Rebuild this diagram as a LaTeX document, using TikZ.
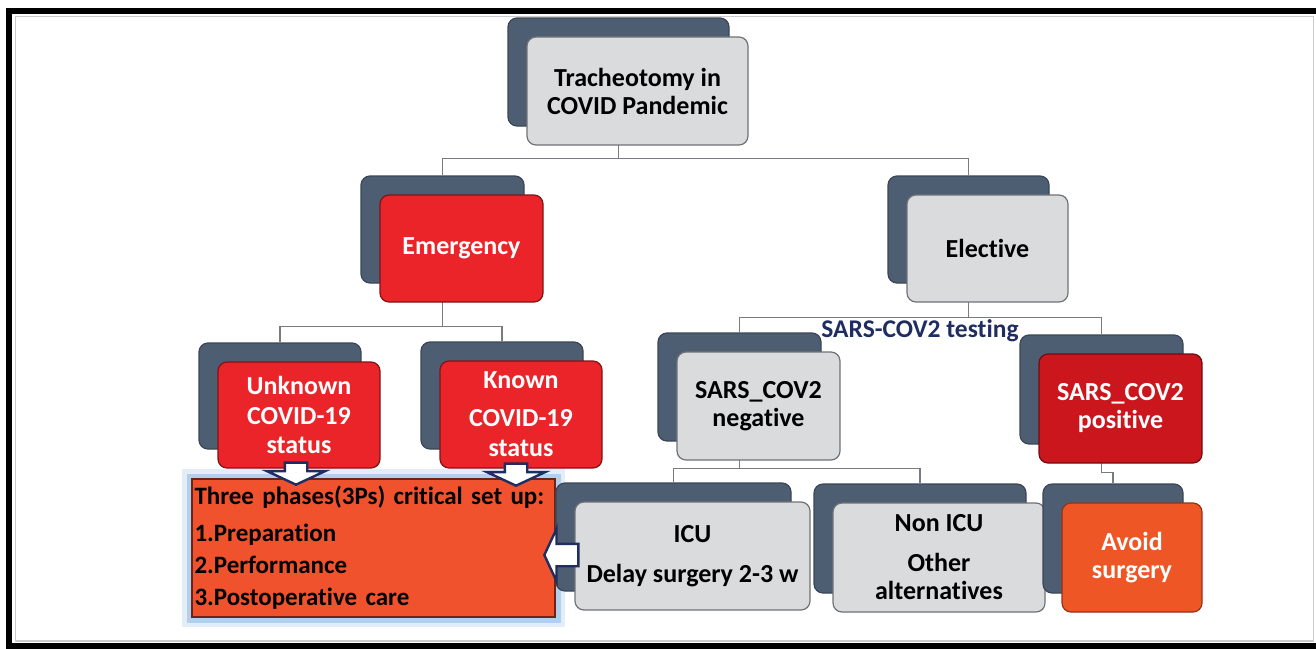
\documentclass[tikz,border=0pt]{standalone}
\usepackage{fontspec}
\setmainfont{Carlito}[Ligatures=NoCommon]
\usetikzlibrary{positioning, shapes.arrows, shadows, backgrounds}

\definecolor{slate}{RGB}{78,94,114}
\definecolor{cardgray}{RGB}{218,219,221}
\definecolor{cardline}{RGB}{112,114,118}
\definecolor{alarmred}{RGB}{234,36,40}
\definecolor{deepred}{RGB}{204,22,30}
\definecolor{avoidorange}{RGB}{238,86,38}
\definecolor{phaseorange}{RGB}{240,82,46}
\definecolor{navy}{RGB}{31,45,96}
\definecolor{glowblue}{RGB}{140,184,226}
\definecolor{linkgray}{RGB}{120,124,130}

\begin{document}
\begin{tikzpicture}[
  x=1pt, y=-1pt,
  card/.style={rectangle, rounded corners=9pt,
               minimum width=163pt, minimum height=107pt,
               font=\fontsize{26}{28}\selectfont\bfseries, align=center,
               inner sep=2pt, line width=1.2pt,
               copy shadow={shadow xshift=-19pt, shadow yshift=19pt,
                            fill=slate, draw=slate!75!black}},
  graycard/.style={card, fill=cardgray, draw=cardline, text=black},
  redcard/.style={card, fill=alarmred, draw=alarmred!55!black, text=white},
  deepcard/.style={card, fill=deepred, draw=deepred!55!black, text=white},
  orangecard/.style={card, fill=avoidorange, draw=avoidorange!60!black, text=white},
  phasebox/.style={rectangle, fill=phaseorange, draw=phaseorange!45!black,
                   line width=1.2pt, minimum width=363pt, minimum height=138pt,
                   text width=358pt, align=left, inner xsep=2.5pt, inner ysep=6pt,
                   font=\fontsize{25}{32}\selectfont\bfseries,
                   preaction={draw=glowblue, line width=20pt, opacity=0.25, rounded corners=8pt, fill=none},
                   preaction={draw=glowblue, line width=11pt, opacity=0.55, rounded corners=4pt, fill=none}},
  blockarr/.style={single arrow, draw=navy, fill=white, line width=2.4pt,
                   inner xsep=0pt, inner ysep=10pt, minimum height=22pt,
                   single arrow head extend=18pt, single arrow tip angle=130},
  link/.style={draw=linkgray, line width=1.5pt},
  bk/.style={shift={(-19,-19)}},
]
  \useasboundingbox (0,0) rectangle (1316,648);

  \node[graycard, minimum width=221pt, minimum height=108pt] (top) at (637.5,91) {Tracheotomy in\\COVID Pandemic};
  \node[redcard] (emerg) at (461.5,248.5) {Emergency};
  \node[graycard, minimum width=161pt] (elect) at (987.5,248.5) {Elective};
  \node[redcard, minimum width=162pt, minimum height=106pt] (unknown) at (299,415) {Unknown\\[2pt]COVID-19\\[1pt]status};
  \node[redcard, minimum width=162pt] (known) at (521,414.5) {Known\\[10pt]COVID-19\\[2pt]status};
  \node[graycard, minimum height=108pt] (neg) at (758.5,406) {SARS\_COV2\\negative};
  \node[deepcard, minimum height=109pt] (pos) at (1120.5,408.5) {SARS\_COV2\\positive};
  \node[phasebox] (phases) at (373.5,548) {Three phases(3Ps) critical set up:\\[5pt]1.Preparation\\2.Performance\\3.Postoperative care};
  \node[graycard, minimum width=235pt, minimum height=108pt] (icu) at (692.5,556) {ICU\\[12pt]Delay surgery 2-3 w};
  \node[graycard, minimum width=212pt, minimum height=109pt] (nonicu) at (939,557.5) {Non ICU\\[12pt]Other\\alternatives};
  \node[orangecard, minimum width=140pt, minimum height=109pt] (avoid) at (1132,557.5) {Avoid\\surgery};

  \node[font=\fontsize{25.5}{28}\selectfont\bfseries, text=navy] (testing) at (920,331) {SARS-COV2 testing};

  \node[blockarr, rotate=-90, anchor=tip] (arrunk) at (296,486) {};
  \node[blockarr, rotate=-90, anchor=tip] (arrknown) at (516,487) {};
  \node[blockarr, rotate=180, anchor=tip, minimum height=34pt, single arrow head extend=15pt] (arricu) at (543,555) {};

  \begin{scope}[on background layer]
    \fill[white] (0,0) rectangle (1316,648);
    \draw[line width=6pt] (9,10.5) rectangle (1340,646);
    \draw[gray!40, line width=1.5pt] (15.5,16.5) rectangle (1313.5,641);
    \draw[link] ([bk]top.south) -- ++(0,32) -| ([bk]emerg.north);
    \draw[link] ([bk]top.south) -- ++(0,32) -| ([bk]elect.north);
    \draw[link] ([bk]emerg.south) -- ++(0,43) -| ([bk]unknown.north);
    \draw[link] ([bk]emerg.south) -- ++(0,43) -| ([bk]known.north);
    \draw[link] ([bk]elect.south) -- ++(0,34) -| ([bk]neg.north);
    \draw[link] ([bk]elect.south) -- ++(0,34) -| ([bk]pos.north);
    \draw[link] ([bk]neg.south) -- ++(0,27) -| ([bk]icu.north);
    \draw[link] ([bk]neg.south) -- ++(0,27) -| ([bk]nonicu.north);
    \draw[link] ([bk]pos.south) -- ++(0,28) -| ([bk]avoid.north);
  \end{scope}
\end{tikzpicture}
\end{document}
